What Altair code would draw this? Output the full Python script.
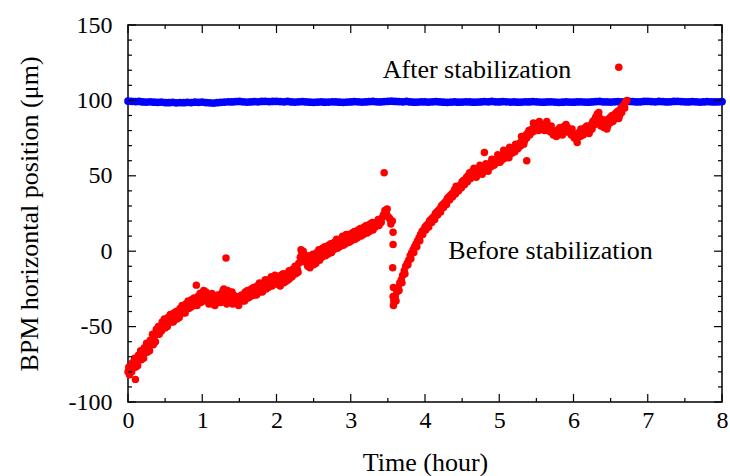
import altair as alt
import numpy as np
import pandas as pd

# ---------------- data ----------------
# Before stabilization, first segment: samples every 0.04 h from 0.00 h
red_seg1 = [-80, -78, -75, -73, -70, -68, -64, -63, -59, -56,
            -54, -50, -48, -47, -45, -44, -42, -41, -39, -38,
            -36, -35, -34, -33, -31, -28, -30, -32, -31, -33,
            -34, -30, -26, -29, -30, -27, -32, -33, -32, -30,
            -29, -28, -26, -27, -24, -25, -23, -21, -22, -18,
            -19, -20, -18, -17, -19, -16, -14, -12, -4, 0,
            -6, -8, -6, -5, -3, -2, 0, 1, 2, 3,
            4, 6, 6, 8, 9, 8, 10, 11, 12, 13,
            14, 15, 16, 17, 18, 20, 24, 25, 22, 20]
# interleaved samples, every 0.04 h from 0.02 h
red_seg1b = [-82, -74, -77, -69, -72, -64, -67, -59, -62, -52,
             -55, -47, -51, -44, -47, -41, -45, -38, -41, -35,
             -38, -32, -36, -30, -34, -26, -33, -29, -35, -30,
             -33, -28, -32, -26, -33, -29, -34, -30, -33, -27,
             -31, -25, -29, -23, -27, -21, -25, -19, -23, -16,
             -22, -16, -21, -15, -18, -12, -15, -8, -2, -4,
             -10, -3, -9, -1, -6, 2, -3, 4, -1, 6,
             2, 8, 4, 11, 6, 12, 8, 14, 10, 16,
             12, 18, 14, 19, 17, 22, 27, 23, 18]
# interleaved samples, every 0.04 h from 0.01 h
red_seg1c = [-77, -80, -71, -76, -66, -71, -61, -66, -55, -60,
             -50, -53, -45, -50, -42, -47, -40, -44, -36, -41,
             -33, -37, -31, -36, -28, -33, -27, -35, -28, -36,
             -29, -34, -25, -35, -27, -35, -30, -36, -29, -33,
             -26, -30, -24, -29, -21, -27, -19, -24, -17, -21,
             -17, -23, -15, -20, -13, -17, -10, -14, 1, -7,
             -3, -11, -2, -8, 1, -4, 3, -2, 5, 1,
             8, 3, 10, 5, 11, 7, 13, 9, 15, 11,
             17, 13, 19, 16, 21, 19, 24, 28, 21]
# second segment: every 0.04 h from 3.60 h
red_seg2 = [-30, -24, -19, -13, -8, -3, 1, 5, 9, 13,
            16, 18, 21, 23, 26, 28, 31, 33, 36, 38,
            41, 42, 44, 47, 49, 52, 53, 51, 54, 55,
            56, 55, 58, 60, 61, 62, 63, 66, 64, 67,
            68, 70, 72, 74, 77, 80, 81, 83, 82, 84,
            83, 86, 82, 80, 79, 81, 80, 83, 82, 80,
            78, 74, 79, 80, 82, 81, 84, 87, 91, 88,
            86, 84, 88, 90, 91, 93, 95, 97, 100]
# interleaved, every 0.04 h from 3.62 h
red_seg2b = [-27, -21, -16, -10, -6, -1, 3, 7, 11, 14,
             17, 20, 22, 25, 27, 30, 32, 35, 37, 39,
             43, 41, 46, 45, 50, 49, 55, 52, 57, 53,
             58, 56, 61, 58, 64, 60, 67, 65, 69, 66,
             71, 69, 76, 73, 78, 79, 85, 80, 86, 82,
             84, 80, 83, 78, 77, 82, 78, 84, 79, 81,
             76, 77, 81, 78, 83, 80, 86, 89, 92, 85,
             87, 83, 89, 87, 92, 90, 96, 99]
# interleaved, every 0.04 h from 3.61 h
red_seg2c = [-33, -26, -21, -15, -9, -5, -1, 3, 7, 11,
             14, 16, 19, 21, 24, 26, 29, 31, 34, 36,
             38, 40, 42, 44, 46, 48, 50, 49, 52, 51,
             54, 53, 56, 57, 59, 59, 61, 62, 62, 65,
             66, 68, 70, 71, 75, 77, 79, 81, 80, 81,
             80, 83, 79, 77, 76, 78, 77, 80, 79, 77,
             75, 75, 76, 77, 79, 78, 81, 84, 88, 83,
             82, 81, 85, 86, 88, 88, 92, 95]
# isolated red points (time, value)
red_extra_t = [0.10, 0.92, 1.32, 3.45, 3.57, 3.57, 3.565, 3.575, 3.57, 3.575, 3.58, 4.80, 5.37, 6.61, 6.05]
red_extra_y = [-85, -22.5, -4.5, 52, 12.5, 4.5, -11, -24, -30, -36, -33, 65.5, 60, 122, 72]

# After stabilization: every 0.05 h from 0 to 8 h
blue_vals = [99.6, 99.4, 99.2, 99.3, 99.0, 98.9, 99.1, 98.8, 98.7, 98.9,
             98.6, 98.5, 98.7, 98.4, 98.6, 98.5, 98.7, 98.6, 98.8, 98.7,
             98.9, 98.6, 98.4, 98.2, 98.5, 98.7, 98.9, 99.1, 99.0, 99.2,
             99.3, 99.1, 98.9, 99.0, 99.2, 99.1, 99.3, 99.4, 99.2, 99.3,
             99.4, 99.2, 99.1, 99.3, 99.0, 98.9, 99.1, 99.2, 99.0, 98.8,
             98.7, 98.9, 99.0, 98.8, 98.9, 99.1, 99.0, 98.8, 98.7, 98.9,
             99.0, 99.2, 99.1, 98.9, 99.0, 99.2, 99.3, 99.1, 99.0, 99.2,
             99.4, 99.5, 99.3, 99.2, 99.1, 99.3, 99.0, 98.8, 98.9, 99.1,
             99.0, 98.9, 99.1, 99.2, 99.0, 98.8, 98.7, 98.9, 99.0, 98.8,
             98.9, 99.1, 99.0, 98.8, 98.9, 99.0, 99.2, 99.1, 99.3, 99.1,
             99.0, 99.2, 99.1, 98.9, 99.0, 98.8, 98.9, 99.1, 99.0, 99.2,
             99.1, 98.9, 98.8, 99.0, 99.1, 98.9, 98.7, 98.8, 99.0, 98.9,
             98.8, 99.0, 99.1, 98.9, 98.8, 99.0, 99.2, 99.3, 99.1, 99.0,
             98.9, 99.1, 99.2, 99.0, 99.1, 99.3, 99.2, 99.0, 99.1, 99.3,
             99.4, 99.2, 99.1, 99.3, 99.2, 99.0, 99.1, 99.3, 99.4, 99.2,
             99.1, 99.0, 99.2, 99.1, 98.9, 99.0, 99.2, 99.1, 99.0, 99.1,
             99.2]

x_major = [0, 1, 2, 3, 4, 5, 6, 7, 8]
x_minor = [0.5, 1.5, 2.5, 3.5, 4.5, 5.5, 6.5, 7.5]
y_major = [-100, -50, 0, 50, 100, 150]
y_minor = [-90, -80, -70, -60, -40, -30, -20, -10, 10, 20, 30, 40,
           60, 70, 80, 90, 110, 120, 130, 140]

ann_text = ["After stabilization", "Before stabilization"]
ann_t = [4.70, 5.69]
ann_y = [114.7, -5.3]

# ---------------- tables ----------------
def grid(start, step, n):
    return [round(start + step * i, 4) for i in range(n)]

red_df = pd.DataFrame({
    "t": grid(0.0, 0.04, len(red_seg1)) + grid(0.02, 0.04, len(red_seg1b))
         + grid(0.01, 0.04, len(red_seg1c))
         + grid(3.60, 0.04, len(red_seg2)) + grid(3.62, 0.04, len(red_seg2b))
         + grid(3.61, 0.04, len(red_seg2c)) + red_extra_t,
    "v": red_seg1 + red_seg1b + red_seg1c + red_seg2 + red_seg2b + red_seg2c + red_extra_y,
})
blue_df = pd.DataFrame({"t": grid(0.0, 0.05, len(blue_vals)), "v": blue_vals})
ann_df = pd.DataFrame({"t": ann_t, "v": ann_y, "label": ann_text})

W, H = 594, 377
FONT = "Liberation Serif"
xscale = alt.Scale(domain=[0, 8], nice=False, zero=False)
yscale = alt.Scale(domain=[-100, 150], nice=False, zero=False)

x_axis = alt.Axis(values=x_major, labelExpr="toString(datum.value)", ticks=False, domain=False,
                  grid=False, labelFont=FONT, labelFontSize=24, labelColor="black", labelPadding=6,
                  labelFlush=False, labelOverlap=False,
                  title="Time (hour)", titleFont=FONT, titleFontSize=26, titleFontWeight="normal",
                  titleColor="black", titleX=W / 2, titleY=68, titleAlign="center",
                  titleBaseline="alphabetic")
y_axis = alt.Axis(values=y_major, labelExpr="toString(datum.value)", ticks=False, domain=False,
                  grid=False, labelFont=FONT, labelFontSize=24, labelColor="black", labelPadding=16,
                  labelFlush=False, labelOverlap=False,
                  title="BPM horizontal position (μm)", titleFont=FONT, titleFontSize=26,
                  titleFontWeight="normal", titleColor="black", titleAngle=270,
                  titleX=-91, titleY=H / 2, titleAlign="center", titleBaseline="alphabetic")

X = alt.X("t:Q", scale=xscale, axis=x_axis)
Y = alt.Y("v:Q", scale=yscale, axis=y_axis)

blue = alt.Chart(blue_df).mark_circle(color="#0000ff", opacity=1, size=60).encode(x=X, y=Y)
red = alt.Chart(red_df).mark_circle(color="#ff0000", opacity=1, size=56).encode(x=X, y=Y)
ann = alt.Chart(ann_df).mark_text(font=FONT, fontSize=26, align="center",
                                  baseline="alphabetic", color="black").encode(
    x=X, y=Y, text="label:N")

def yticks(vals, x0, x1):
    return alt.Chart(pd.DataFrame({"v": vals})).mark_rule(color="black", strokeWidth=1.2).encode(
        y=Y, x=alt.value(x0), x2=alt.value(x1))

def xticks(vals, y0, y1):
    return alt.Chart(pd.DataFrame({"t": vals})).mark_rule(color="black", strokeWidth=1.2).encode(
        x=X, y=alt.value(y0), y2=alt.value(y1))

ticks = [
    yticks(y_major, 0, 8), yticks(y_minor, 0, 4),
    yticks(y_major, W - 8, W), yticks(y_minor, W - 4, W),
    xticks(x_major, H, H - 8), xticks(x_minor, H, H - 4),
    xticks(x_major, 0, 8), xticks(x_minor, 0, 4),
]

chart = alt.layer(blue, red, ann, *ticks).properties(
    width=W, height=H,
    autosize=alt.AutoSizeParams(type="none"),
    padding={"left": 128, "top": 25, "right": 8, "bottom": 74},
).configure_view(stroke="black", strokeWidth=1.5)

chart.save("out.html", embed_options={"renderer": "svg", "actions": False})
